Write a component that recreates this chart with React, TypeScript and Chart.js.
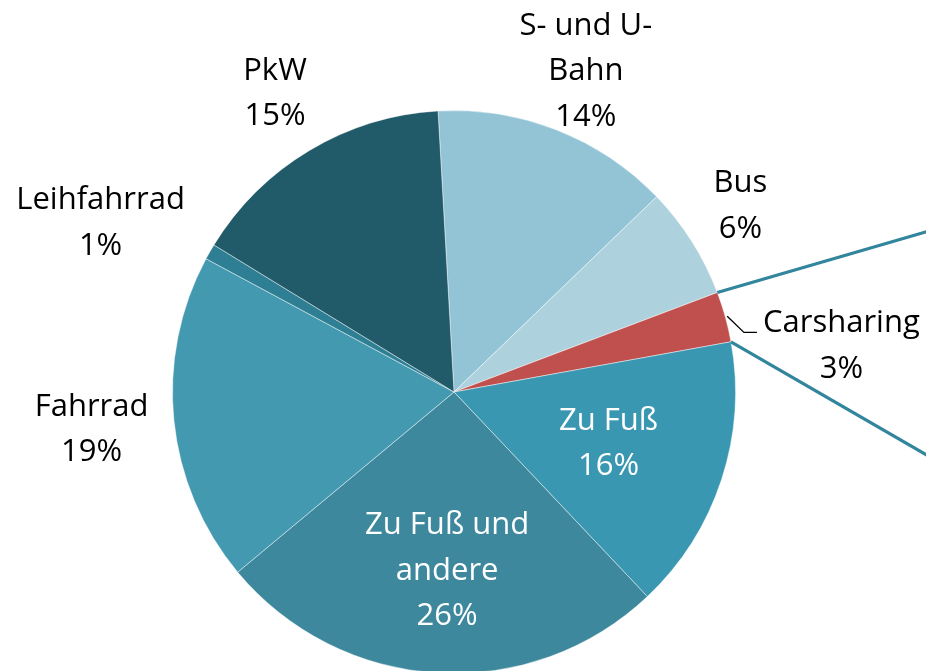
import React, { useEffect, useRef } from "react";
import { Chart, registerables } from "chart.js";

Chart.register(...registerables);

// ---- data ----
const categories: string[] = [
  "S- und U-Bahn",
  "Bus",
  "Carsharing",
  "Zu Fuß",
  "Zu Fuß und andere",
  "Fahrrad",
  "Leihfahrrad",
  "PkW",
];
const labelLines: string[][] = [
  ["S- und U-", "Bahn"],
  ["Bus"],
  ["Carsharing"],
  ["Zu Fuß"],
  ["Zu Fuß und", "andere"],
  ["Fahrrad"],
  ["Leihfahrrad"],
  ["PkW"],
];
const shares: number[] = [13.7, 6.45, 2.9, 15.8, 26.0, 18.9, 0.9, 15.35];
const percentLabels: string[] = ["14%", "6%", "3%", "16%", "26%", "19%", "1%", "15%"];

// ---- styles ----
const sliceColors = [
  "#93C4D6",
  "#ADD2DE",
  "#C0504D",
  "#3A97B1",
  "#3D889D",
  "#4399B0",
  "#2E7F94",
  "#215A69",
];
const labelStyle = [
  { f: 1.234, a: 0.9, c: "#000000" },
  { f: 1.215, a: -0.8, c: "#000000" },
  { f: 1.386, a: 8.6, c: "#000000", leader: true },
  { f: 0.578, a: 0, c: "#ffffff" },
  { f: 0.632, a: -1.2, c: "#ffffff" },
  { f: 1.294, a: 0, c: "#000000" },
  { f: 1.393, a: -4.2, c: "#000000" },
  { f: 1.239, a: 0, c: "#000000" },
];
const FONT = '31px "Open Sans", sans-serif';
const LINE_H = 45.5;

const labelPlugin = {
  id: "pieLabels",
  afterDatasetsDraw(chart: any) {
    const ctx: CanvasRenderingContext2D = chart.ctx;
    const meta = chart.getDatasetMeta(0);
    const arcs = meta.data;
    ctx.save();
    // pie-of-pie connector lines from the Carsharing slice
    const car = arcs[2];
    if (car) {
      const R = car.outerRadius;
      ctx.strokeStyle = "#31859C";
      ctx.lineWidth = 3.2;
      const conn = [
        { ang: car.startAngle, slope: -0.29 },
        { ang: car.endAngle, slope: 0.578 },
      ];
      for (const c of conn) {
        const x0 = car.x + Math.cos(c.ang) * R;
        const y0 = car.y + Math.sin(c.ang) * R;
        const x1 = chart.width + 20;
        const y1 = y0 + (x1 - x0) * c.slope;
        ctx.beginPath();
        ctx.moveTo(x0, y0);
        ctx.lineTo(x1, y1);
        ctx.stroke();
      }
    }
    ctx.font = FONT;
    ctx.textAlign = "center";
    ctx.textBaseline = "middle";
    arcs.forEach((arc: any, i: number) => {
      const st = labelStyle[i];
      const mid = (arc.startAngle + arc.endAngle) / 2 + (st.a * Math.PI) / 180;
      const r = arc.outerRadius * st.f;
      const cx = arc.x + Math.cos(mid) * r;
      const cy = arc.y + Math.sin(mid) * r;
      const lines = [...labelLines[i], percentLabels[i]];
      const top = cy - ((lines.length - 1) * LINE_H) / 2;
      ctx.fillStyle = st.c;
      lines.forEach((t, k) => ctx.fillText(t, cx, top + k * LINE_H + 1));
      if ((st as any).leader) {
        const w = ctx.measureText(lines[0]).width;
        const left = cx - w / 2;
        const am = (arc.startAngle + arc.endAngle) / 2;
        const px = arc.x + Math.cos(am) * (arc.outerRadius + 2);
        const py = arc.y + Math.sin(am) * (arc.outerRadius + 2);
        const ey = top + 10;
        ctx.strokeStyle = "#000000";
        ctx.lineWidth = 1.3;
        ctx.beginPath();
        ctx.moveTo(px, py);
        ctx.lineTo(left - 19, ey);
        ctx.lineTo(left - 6, ey);
        ctx.stroke();
      }
    });
    ctx.restore();
  },
};

export default function App() {
  const ref = useRef<HTMLCanvasElement | null>(null);
  useEffect(() => {
    if (!ref.current) return;
    const chart = new Chart(ref.current, {
      type: "pie",
      data: {
        labels: categories,
        datasets: [
          {
            data: shares,
            backgroundColor: sliceColors,
            borderColor: "rgba(255,255,255,0.45)",
            borderWidth: 1,
          },
        ],
      },
      options: {
        responsive: false,
        animation: false,
        rotation: -3.25,
        layout: { padding: { left: 172, top: 110, right: 190, bottom: 26 } },
        plugins: {
          legend: { display: false },
          tooltip: { enabled: false },
        },
      },
      plugins: [labelPlugin],
    });
    return () => chart.destroy();
  }, []);
  return (
    <div
      style={{
        position: "fixed",
        left: 0,
        top: 0,
        width: 926,
        height: 671,
        overflow: "hidden",
        background: "#ffffff",
      }}
    >
      <canvas ref={ref} width={926} height={700} style={{ display: "block" }} />
    </div>
  );
}
